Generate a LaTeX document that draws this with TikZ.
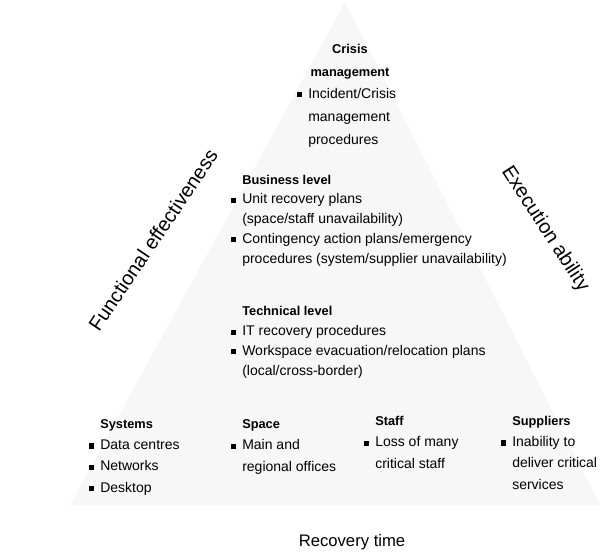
\documentclass[tikz,border=0pt]{standalone}
\usepackage{fontspec}
\setmainfont{Liberation Sans}
\newcommand{\hd}[1]{{\bfseries\fontsize{9.6}{14}\selectfont #1}}
\newcommand{\sqbul}{\llap{\rule[0.6pt]{3.8pt}{3.8pt}\hspace{5pt}}}
\begin{document}
\begin{tikzpicture}[x=0.75pt, y=-0.75pt,
  every node/.style = {inner sep=0pt, align=left, anchor=base west},
  body/.style   = {font=\fontsize{10.5}{14.8}\selectfont},
  top/.style    = {font=\fontsize{10.5}{17.25}\selectfont},
  bottom/.style = {font=\fontsize{10.5}{16}\selectfont},
  axis/.style   = {anchor=center, font=\fontsize{15}{18}\selectfont}]
\useasboundingbox (0,0) rectangle (602,551);
% faint pyramid behind the text
\fill[black!3] (345,2) -- (600,505) -- (70,505) -- cycle;
% levels (base = baseline of the last line)
\node[top, align=center, anchor=base] (crisis) at (350,76) {\hd{Crisis}\\\hd{management}};
\node[top] (crisisplan) at (308,144) {\sqbul Incident/Crisis\\management\\procedures};
\node[body] (business) at (242,263) {\hd{Business level}\\
 \sqbul Unit recovery plans\\
 (space/staff unavailability)\\
 \sqbul Contingency action plans/emergency\\
 procedures (system/supplier unavailability)};
\node[body] (technical) at (242,375) {\hd{Technical level}\\
 \sqbul IT recovery procedures\\
 \sqbul Workspace evacuation/relocation plans\\
 (local/cross-border)};
% resources
\node[bottom] (systems) at (100,492) {\hd{Systems}\\\sqbul Data centres\\\sqbul Networks\\\sqbul Desktop};
\node[bottom] (space) at (242,471) {\hd{Space}\\\sqbul Main and\\regional offices};
\node[bottom] (staff) at (375,468) {\hd{Staff}\\\sqbul Loss of many\\critical staff};
\node[bottom] (suppliers) at (512,489) {\hd{Suppliers}\\\sqbul Inability to\\deliver critical\\services};
% axes
\node[anchor=base, font=\fontsize{12.5}{15}\selectfont] (recovery) at (352,546) {Recovery time};
\node[axis, rotate=56] (functional) at (153,240) {Functional effectiveness};
\node[axis, rotate=-57] (execution) at (545,229) {Execution ability};
\end{tikzpicture}
\end{document}
